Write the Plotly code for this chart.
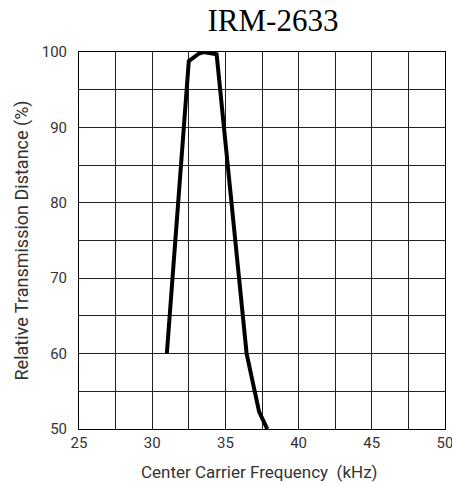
import plotly.graph_objects as go

freq_khz = [31.0, 32.5, 33.2, 33.5, 34.4, 36.45, 37.3, 37.86]
rel_distance = [60.0, 98.8, 99.8, 100.0, 99.7, 60.0, 52.3, 50.0]

x_ticks = [25, 30, 35, 40, 45, 50]
y_ticks = [50, 60, 70, 80, 90, 100]

sans = "Roboto, Liberation Sans, sans-serif"
tick_font = dict(family=sans, size=15, color="#333")

W, H = 452, 484
L, R, T, B = 79, 7, 52, 55

fig = go.Figure()
fig.add_trace(go.Scatter(x=freq_khz, y=rel_distance, mode="lines",
                         line=dict(color="black", width=4), showlegend=False))

fig.update_layout(
    width=W, height=H,
    margin=dict(l=L, r=R, t=T, b=B),
    paper_bgcolor="white", plot_bgcolor="white",
    title=dict(text="IRM-2633", x=273/W, xanchor="center", y=1-20/H, yanchor="middle",
               font=dict(family="Liberation Serif, Times New Roman, serif", size=31, color="black")),
    xaxis=dict(range=[25, 50], tickvals=x_ticks, ticks="", showgrid=True, gridcolor="#222", gridwidth=1,
               minor=dict(dtick=2.5, tick0=25, showgrid=True, gridcolor="#222", gridwidth=1),
               showline=True, linecolor="black", linewidth=1, mirror=True, zeroline=False,
               tickfont=tick_font, automargin=False, ticklabeloverflow="allow", ticklabelstandoff=0),
    yaxis=dict(range=[50, 100], tickvals=y_ticks, ticks="", showgrid=True, gridcolor="#222", gridwidth=1,
               minor=dict(dtick=5, tick0=50, showgrid=True, gridcolor="#222", gridwidth=1),
               showline=True, linecolor="black", linewidth=1, mirror=True, zeroline=False,
               tickfont=tick_font, automargin=False, ticklabeloverflow="allow", ticklabelstandoff=8),
    annotations=[
        dict(text="Center Carrier Frequency  (kHz)", xref="paper", yref="paper",
             x=(259 - L) / (W - L - R), y=-(472 - (H - B)) / (H - T - B),
             xanchor="center", yanchor="middle", showarrow=False,
             font=dict(family=sans, size=17, color="#333")),
        dict(text="Relative Transmission Distance (%)", xref="paper", yref="paper",
             x=-(L - 21) / (W - L - R), y=0.5, textangle=-90,
             xanchor="center", yanchor="middle", showarrow=False,
             font=dict(family=sans, size=18, color="#333")),
    ],
)

fig.write_html("out.html", config={"displayModeBar": False},
               post_script="document.body.style.margin='0';document.body.style.overflow='hidden';")
